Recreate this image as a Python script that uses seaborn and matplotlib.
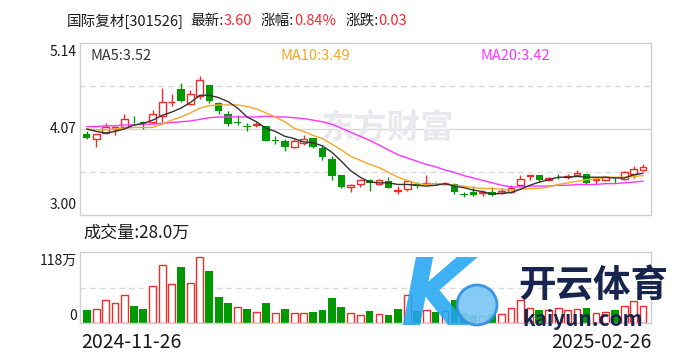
import numpy as np
import matplotlib
matplotlib.use("Agg")
import matplotlib.pyplot as plt
from matplotlib.patches import Ellipse
import seaborn as sns

# ---------------- data ----------------
opens = [4.01, 3.94, 4.02, 4.07, 4.10, 4.20, 4.16, 4.16, 4.23, 4.40,
         4.57, 4.38, 4.48, 4.62, 4.39, 4.26, 4.16, 4.11, 4.12, 4.11,
         3.93, 3.92, 3.85, 3.90, 3.96, 3.83, 3.70, 3.50, 3.35, 3.38,
         3.44, 3.39, 3.42, 3.30, 3.32, 3.39, 3.39, 3.40, 3.38, 3.39,
         3.26, 3.28, 3.27, 3.29, 3.27, 3.28, 3.37, 3.48, 3.50, 3.43,
         3.49, 3.47, 3.50, 3.51, 3.44, 3.44, 3.47, 3.45, 3.51, 3.56]
highs = [4.04, 4.01, 4.14, 4.11, 4.26, 4.23, 4.17, 4.31, 4.58, 4.51,
         4.64, 4.56, 4.73, 4.62, 4.41, 4.29, 4.25, 4.15, 4.16, 4.11,
         3.98, 3.94, 3.95, 4.00, 3.96, 3.87, 3.73, 3.50, 3.39, 3.45,
         3.45, 3.45, 3.47, 3.36, 3.44, 3.41, 3.50, 3.41, 3.41, 3.40,
         3.28, 3.36, 3.31, 3.35, 3.34, 3.37, 3.50, 3.50, 3.50, 3.47,
         3.51, 3.51, 3.56, 3.51, 3.46, 3.48, 3.47, 3.55, 3.61, 3.63]
lows = [3.95, 3.85, 4.01, 3.99, 4.09, 4.15, 4.07, 4.15, 4.16, 4.36,
        4.41, 4.37, 4.44, 4.39, 4.26, 4.11, 4.12, 4.05, 4.10, 3.92,
        3.88, 3.80, 3.83, 3.87, 3.83, 3.69, 3.44, 3.34, 3.29, 3.35,
        3.30, 3.37, 3.33, 3.26, 3.30, 3.33, 3.38, 3.37, 3.37, 3.26,
        3.22, 3.24, 3.24, 3.24, 3.26, 3.27, 3.36, 3.44, 3.41, 3.42,
        3.45, 3.45, 3.48, 3.39, 3.39, 3.42, 3.40, 3.44, 3.46, 3.55]
closes = [3.96, 4.01, 4.09, 4.09, 4.20, 4.19, 4.14, 4.26, 4.41, 4.41,
          4.42, 4.51, 4.68, 4.42, 4.29, 4.13, 4.14, 4.10, 4.13, 3.92,
          3.92, 3.85, 3.92, 3.95, 3.84, 3.72, 3.48, 3.35, 3.37, 3.44,
          3.40, 3.44, 3.33, 3.31, 3.42, 3.36, 3.40, 3.38, 3.40, 3.28,
          3.25, 3.25, 3.28, 3.25, 3.30, 3.34, 3.45, 3.50, 3.44, 3.46,
          3.48, 3.49, 3.52, 3.40, 3.45, 3.47, 3.46, 3.53, 3.57, 3.60]
ma5 = [4.07, 4.04, 4.02, 4.04, 4.07, 4.12, 4.14, 4.18, 4.24, 4.28,
       4.33, 4.40, 4.49, 4.49, 4.46, 4.41, 4.33, 4.22, 4.16, 4.08,
       4.04, 3.98, 3.95, 3.91, 3.90, 3.86, 3.78, 3.67, 3.55, 3.47,
       3.41, 3.40, 3.40, 3.38, 3.38, 3.37, 3.36, 3.37, 3.39, 3.36,
       3.34, 3.31, 3.29, 3.26, 3.27, 3.28, 3.32, 3.37, 3.41, 3.44,
       3.47, 3.47, 3.48, 3.47, 3.47, 3.47, 3.46, 3.46, 3.50, 3.52]
ma10 = [4.07, 4.06, 4.06, 4.07, 4.08, 4.09, 4.09, 4.09, 4.13, 4.18,
        4.22, 4.27, 4.33, 4.36, 4.37, 4.37, 4.37, 4.35, 4.32, 4.27,
        4.22, 4.16, 4.08, 4.04, 3.99, 3.95, 3.88, 3.81, 3.73, 3.68,
        3.63, 3.59, 3.53, 3.47, 3.43, 3.39, 3.38, 3.39, 3.39, 3.37,
        3.36, 3.34, 3.33, 3.33, 3.32, 3.31, 3.32, 3.33, 3.33, 3.35,
        3.38, 3.40, 3.42, 3.44, 3.45, 3.47, 3.47, 3.47, 3.48, 3.49]
ma20 = [4.10, 4.10, 4.11, 4.11, 4.12, 4.12, 4.13, 4.13, 4.14, 4.15,
        4.16, 4.17, 4.19, 4.21, 4.22, 4.22, 4.22, 4.22, 4.22, 4.23,
        4.22, 4.22, 4.21, 4.20, 4.18, 4.16, 4.13, 4.08, 4.03, 3.98,
        3.93, 3.87, 3.81, 3.75, 3.71, 3.67, 3.63, 3.60, 3.56, 3.53,
        3.49, 3.46, 3.43, 3.40, 3.37, 3.35, 3.35, 3.36, 3.36, 3.36,
        3.37, 3.37, 3.38, 3.38, 3.38, 3.39, 3.39, 3.40, 3.41, 3.42]
volumes = [21, 24, 39, 34, 47, 29, 24, 62, 97, 64,
           93, 67, 110, 86, 43, 33, 26, 24, 19, 33,
           17, 23, 17, 16, 19, 21, 41, 26, 17, 14,
           20, 15, 14, 24, 47, 20, 22, 18, 20, 38,
           16, 14, 11, 15, 15, 25, 38, 25, 21, 21,
           25, 22, 24, 25, 17, 18, 21, 28, 36, 28.0]   # 万
vol_up = [0, 1, 1, 1, 1, 0, 0, 1, 1, 1,
          0, 1, 1, 0, 0, 0, 1, 0, 1, 0,
          1, 0, 1, 1, 0, 0, 0, 0, 1, 1,
          0, 1, 0, 0, 1, 0, 1, 0, 1, 0,
          0, 0, 1, 0, 1, 1, 1, 1, 0, 1,
          1, 1, 1, 0, 1, 1, 0, 1, 1, 1]
date_labels = ["2024-11-26", "2025-02-26"]
price_ticks = [5.14, 4.07, 3.00]
vol_max = 118
stock_title = "国际复材[301526]"
latest_price = "3.60"
change_pct = "0.84%"
change_amt = "0.03"

# ---------------- style ----------------
sns.set_theme(style="white")
plt.rcParams['font.family'] = ['Noto Sans CJK SC', 'DejaVu Sans']

RED = '#f42a2a'
GREEN = '#009a00'
GRID = '#d9d9d9'
SPINE = '#cfcfd4'
TXT = '#1a1a1a'
C_MA5 = '#333333'
C_MA10 = '#f5a623'
C_MA20 = '#ff33ff'

W, H = 688, 360
fig = plt.figure(figsize=(W / 100, H / 100), dpi=100)
fig.patch.set_facecolor('white')
renderer = fig.canvas.get_renderer()


def rect(x0, y0, x1, y1):
    return [x0 / W, 1 - y1 / H, (x1 - x0) / W, (y1 - y0) / H]


def ftext(x, y, s, **kw):
    return fig.text(x / W, 1 - y / H, s, **kw)


axp = fig.add_axes(rect(80, 43, 651, 215))
axv = fig.add_axes(rect(80, 252, 651, 323))

n = len(closes)
idx = np.arange(n)
xlim = (-0.71, n - 0.16)

for ax in (axp, axv):
    ax.set_xlim(*xlim)
    ax.set_xticks([])
    ax.set_yticks([])
    ax.set_facecolor('white')
    for sp in ax.spines.values():
        sp.set_color(SPINE)
        sp.set_linewidth(1.0)

# ---------------- price panel ----------------
pmax, pmid, pmin = price_ticks
axp.set_ylim(pmin, pmax)
axp.axhline(pmid, color=GRID, lw=1.0, zorder=0)
for q in ((pmax + pmid) / 2, (pmid + pmin) / 2):
    axp.axhline(q, color=GRID, lw=1.0, ls=(0, (4, 3)), zorder=0)

# watermark
axp.text(0.42, 0.50, "东方财富", transform=axp.transAxes, fontsize=24,
         fontweight='bold', color='#e8e8ee', ha='left', va='center', zorder=0.5)

o = np.array(opens)
h = np.array(highs)
l = np.array(lows)
c = np.array(closes)
up = c >= o
body_lo = np.minimum(o, c)
body_hi = np.maximum(o, c)
body_h = np.maximum(body_hi - body_lo, 0.007)

# up candles: hollow red
iu = idx[up]
axp.vlines(iu, body_hi[up], h[up], color=RED, lw=1.0, zorder=2)
axp.vlines(iu, l[up], body_lo[up], color=RED, lw=1.0, zorder=2)
axp.bar(iu, body_h[up], bottom=body_lo[up], width=0.72, facecolor='white',
        edgecolor=RED, linewidth=1.0, zorder=2)
# down candles: filled green
idn = idx[~up]
axp.vlines(idn, l[~up], h[~up], color=GREEN, lw=1.0, zorder=2)
axp.bar(idn, body_h[~up], bottom=body_lo[~up], width=0.8, color=GREEN,
        linewidth=0, zorder=2)

sns.lineplot(x=idx, y=ma20, ax=axp, color=C_MA20, lw=1.0, zorder=3)
sns.lineplot(x=idx, y=ma10, ax=axp, color=C_MA10, lw=1.0, zorder=3)
sns.lineplot(x=idx, y=ma5, ax=axp, color=C_MA5, lw=1.0, zorder=4)
axp.set_xlabel('')
axp.set_ylabel('')
axp.set_xlim(*xlim)
axp.set_ylim(pmin, pmax)

# ---------------- volume panel ----------------
axv.set_ylim(0, vol_max)
axv.axhline(vol_max / 2, color=GRID, lw=1.0, ls=(0, (4, 3)), zorder=0)
v = np.array(volumes, dtype=float)
vu = np.array(vol_up, dtype=bool)
axv.bar(idx[vu], v[vu], width=0.72, facecolor='white', edgecolor=RED,
        linewidth=1.0, zorder=2)
axv.bar(idx[~vu], v[~vu], width=0.82, color=GREEN, linewidth=0, zorder=2)

# ---------------- texts ----------------
FS = 10.5
hy = 21
header = [(stock_title, TXT, 6), ("最新:", TXT, 0), (latest_price, RED, 9),
          ("涨幅:", TXT, 0), (change_pct, RED, 9),
          ("涨跌:", TXT, 0), (change_amt, RED, 0)]
xcur = 67
for s, col, gap in header:
    t = ftext(xcur, hy, s, fontsize=FS, color=col, va='center', ha='left')
    bb = t.get_window_extent(renderer=renderer)
    xcur += bb.width + gap

ftext(90, 56, f"MA5:{ma5[-1]:.2f}", fontsize=10.5, color=C_MA5, va='center')
ftext(280, 56, f"MA10:{ma10[-1]:.2f}", fontsize=10.5, color=C_MA10, va='center')
ftext(481, 56, f"MA20:{ma20[-1]:.2f}", fontsize=10.5, color=C_MA20, va='center')

ftext(77, 52, f"{pmax:.2f}", fontsize=10, color=TXT, ha='right', va='center')
ftext(77, 129, f"{pmid:.2f}", fontsize=10, color=TXT, ha='right', va='center')
ftext(77, 205, f"{pmin:.2f}", fontsize=10, color=TXT, ha='right', va='center')

ftext(83, 233, f"成交量:{volumes[-1]:.1f}万", fontsize=12.3, color=TXT, va='center')
ftext(77, 261, f"{vol_max}万", fontsize=10, color=TXT, ha='right', va='center')
ftext(77, 316, "0", fontsize=10, color=TXT, ha='right', va='center')

ftext(81, 342, date_labels[0], fontsize=14, color=TXT, ha='left', va='center')
ftext(652, 342, date_labels[-1], fontsize=14, color=TXT, ha='right', va='center')

# overlay logo watermark (blue "K" + ball, and its text)
ftext(436, 299, "K", fontsize=66, fontweight='bold', style='italic',
      color='#22a6f2', alpha=0.88, ha='center', va='center', zorder=9,
      family=['DejaVu Sans'])
ball = Ellipse((477 / W, 1 - 305 / H), 40 / W, 40 / H, transform=fig.transFigure,
               facecolor='#7cc6f6', edgecolor='#2d8fe6', lw=2, alpha=0.92,
               zorder=9.5)
fig.patches.append(ball)
ftext(518, 286, "开云体育", fontsize=27, fontweight='bold', color='#17244d',
      ha='left', va='center', zorder=10)
ftext(522, 320, "kaiyun.com", fontsize=15, fontweight='bold', color='#17244d',
      ha='left', va='center', zorder=10)

fig.savefig("out.png", dpi=100, facecolor='white')
